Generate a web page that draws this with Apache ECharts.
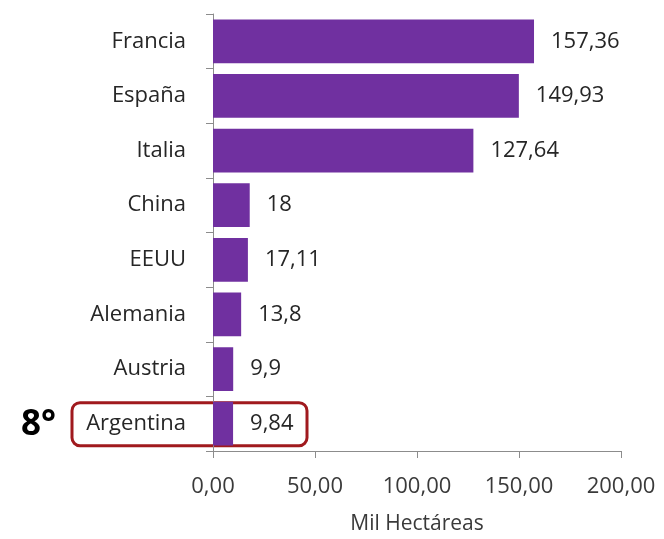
<!DOCTYPE html>
<html><head><meta charset="utf-8">
<script src="https://cdn.jsdelivr.net/npm/echarts@6/dist/echarts.min.js"></script>
<style>html,body{margin:0;padding:0;background:#fff}#c{width:664px;height:539px}</style>
</head><body><div id="c"></div>
<script>
var categories = ['Francia','España','Italia','China','EEUU','Alemania','Austria','Argentina'];
var values = [157.36, 149.93, 127.64, 18, 17.11, 13.8, 9.9, 9.84];
var xTicks = [0, 50, 100, 150, 200];
var highlight = 'Argentina';
var rankLabel = '8°';
var FONT = 'Open Sans';
var FS = 22;
var chart = echarts.init(document.getElementById('c'));
function comma(v){ return String(v).replace('.', ','); }
chart.setOption({
  animation: false,
  grid: {left: 213, right: 43, top: 14, bottom: 88, outerBoundsMode: 'none', containLabel: false},
  xAxis: {
    type: 'value', min: xTicks[0], max: xTicks[xTicks.length-1], interval: 50,
    name: 'Mil Hectáreas', nameLocation: 'middle', nameGap: 63,
    nameTextStyle: {fontFamily: FONT, fontSize: 21, color: '#3a3a3a'},
    axisLine: {show: true, lineStyle: {color: '#8c8c8c', width: 1}},
    axisTick: {show: true, length: 7, lineStyle: {color: '#8c8c8c'}},
    splitLine: {show: false},
    axisLabel: {fontFamily: FONT, fontSize: FS, color: '#3a3a3a', margin: 25,
      formatter: function(v){ return v.toFixed(2).replace('.', ','); }}
  },
  yAxis: {
    type: 'category', data: categories, inverse: true,
    axisLine: {show: true, lineStyle: {color: '#8c8c8c', width: 1}},
    axisTick: {show: true, length: 7, lineStyle: {color: '#8c8c8c'}},
    axisLabel: {fontFamily: FONT, fontSize: FS, color: '#262626', margin: 27}
  },
  series: [{
    type: 'bar', data: values, barCategoryGap: '20%',
    itemStyle: {color: '#7030A0'},
    label: {show: true, position: 'right', distance: 17, fontFamily: FONT, fontSize: FS, color: '#262626',
      formatter: function(p){ return comma(p.value); }}
  }]
});
var idx = categories.indexOf(highlight);
var p0 = chart.convertToPixel({gridIndex: 0}, [0, idx]);
var yc = p0[1];
chart.setOption({
  graphic: [
    {type: 'rect', shape: {x: 72, y: yc - 21, width: 235, height: 43, r: 8},
     style: {fill: 'none', stroke: '#A01A1E', lineWidth: 3}},
    {type: 'text', x: 21, y: yc + 1,
     style: {text: rankLabel, fontFamily: FONT, fontSize: 35, fontWeight: 'bold', fill: '#000',
       verticalAlign: 'middle', align: 'left'}}
  ]
});
</script></body></html>
